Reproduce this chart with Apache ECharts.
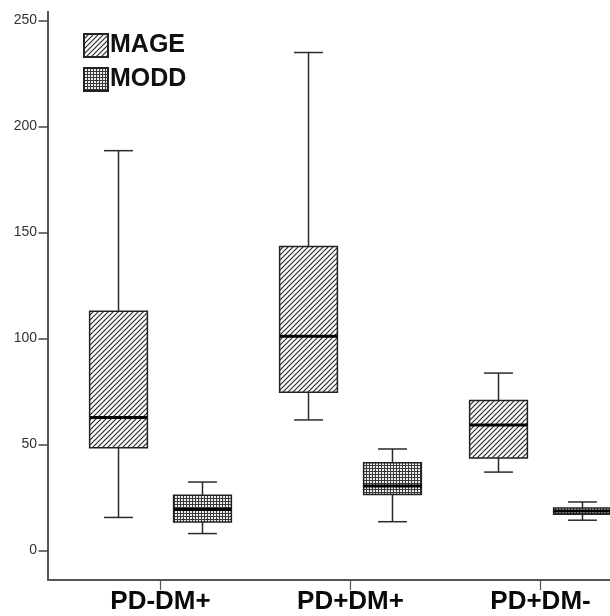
<!DOCTYPE html>
<html><head><meta charset="utf-8">
<script src="https://cdn.jsdelivr.net/npm/echarts@6/dist/echarts.min.js"></script>
<style>html,body{margin:0;padding:0;background:#fff}#c{width:610px;height:616px}</style>
</head><body><div id="c"></div>
<script>
const categories = ['PD-DM+', 'PD+DM+', 'PD+DM-'];
const seriesNames = ['MAGE', 'MODD'];
const mageMin = [15.5, 61.5, 36.9];
const mageQ1 = [48.4, 74.5, 43.5];
const mageMedian = [62.6, 101.0, 59.1];
const mageQ3 = [112.8, 143.3, 70.7];
const mageMax = [188.5, 234.8, 83.6];
const moddMin = [7.9, 13.5, 14.2];
const moddQ1 = [13.4, 26.3, 17.0];
const moddMedian = [19.2, 30.3, 18.6];
const moddQ3 = [26.0, 41.3, 20.0];
const moddMax = [32.2, 47.8, 22.8];
const yTicks = [0, 50, 100, 150, 200, 250];
const yMin = -14, yMax = 254;

const FONT = '"Liberation Sans", Arial, Helvetica, sans-serif';

function hatchTile() {
  const s = 5;
  const c = document.createElement('canvas');
  c.width = s; c.height = s;
  const g = c.getContext('2d');
  g.fillStyle = '#fff'; g.fillRect(0, 0, s, s);
  g.strokeStyle = '#2b2b2b'; g.lineWidth = 1.2;
  g.beginPath();
  g.moveTo(0, s); g.lineTo(s, 0);
  g.moveTo(-1, 1); g.lineTo(1, -1);
  g.moveTo(s - 1, s + 1); g.lineTo(s + 1, s - 1);
  g.stroke();
  return {image: c, repeat: 'repeat'};
}
function dotTile() {
  const c = document.createElement('canvas');
  c.width = 3; c.height = 3;
  const g = c.getContext('2d');
  g.fillStyle = '#383838'; g.fillRect(0, 0, 3, 3);
  g.fillStyle = '#eeeeee'; g.fillRect(1, 1, 2, 2);
  return {image: c, repeat: 'repeat'};
}
const magePattern = hatchTile();
const moddPattern = dotTile();

function rows(mn, q1, md, q3, mx) {
  return categories.map((c, i) => [i, mn[i], q1[i], md[i], q3[i], mx[i]]);
}

function renderBox(offsetFrac, fill) {
  return function (params, api) {
    const ci = api.value(0);
    const band = api.size([1, 0])[0];
    const cx = api.coord([ci, 0])[0] + offsetFrac * band;
    const y = k => api.coord([ci, api.value(k)])[1];
    const yMn = y(1), yQ1 = y(2), yMd = y(3), yQ3 = y(4), yMx = y(5);
    const hw = band * 0.152, cw = hw / 2;
    const ln = {stroke: '#2a2a2a', lineWidth: 1.5};
    return {type: 'group', children: [
      {type: 'line', shape: {x1: cx, y1: yQ3, x2: cx, y2: yMx}, style: ln},
      {type: 'line', shape: {x1: cx, y1: yQ1, x2: cx, y2: yMn}, style: ln},
      {type: 'line', shape: {x1: cx - cw, y1: yMx, x2: cx + cw, y2: yMx}, style: ln},
      {type: 'line', shape: {x1: cx - cw, y1: yMn, x2: cx + cw, y2: yMn}, style: ln},
      {type: 'rect', shape: {x: cx - hw, y: yQ3, width: 2 * hw, height: yQ1 - yQ3},
        style: {fill: fill, stroke: '#222', lineWidth: 1.5}},
      {type: 'line', shape: {x1: cx - hw, y1: yMd, x2: cx + hw, y2: yMd},
        style: {stroke: '#000', lineWidth: 3}}
    ]};
  };
}

const chart = echarts.init(document.getElementById('c'), null, {renderer: 'canvas'});
chart.setOption({
  animation: false,
  backgroundColor: '#fff',
  textStyle: {fontFamily: FONT},
  legend: {
    data: seriesNames, orient: 'vertical', left: 83, top: 33, padding: 0,
    itemWidth: 24, itemHeight: 23, itemGap: 9, icon: 'rect', selectedMode: false,
    textStyle: {fontSize: 25, fontWeight: 'bold', color: '#111', fontFamily: FONT, padding: [0, 0, 0, -3]}
  },
  grid: [
    {left: 65.5, width: 570, top: 11.8, bottom: 36, outerBoundsMode: 'none', containLabel: false},
    {left: 48, right: 0, top: 11.8, bottom: 36, outerBoundsMode: 'none', containLabel: false}
  ],
  xAxis: [
    {
      type: 'category', data: categories, gridIndex: 0, boundaryGap: true,
      axisLine: {show: false, onZero: false},
      axisTick: {show: true, alignWithLabel: true, length: 10, lineStyle: {color: '#555', width: 1.2}},
      axisLabel: {margin: 9, fontSize: 26, fontWeight: 'bold', color: '#0a0a0a', fontFamily: FONT},
      splitLine: {show: false}
    },
    {
      type: 'value', gridIndex: 1, min: 0, max: 1,
      axisLine: {show: true, onZero: false, lineStyle: {color: '#555', width: 2}},
      axisTick: {show: false}, axisLabel: {show: false}, splitLine: {show: false}
    }
  ],
  yAxis: [
    {
      type: 'value', gridIndex: 0, min: yMin, max: yMax, offset: 17.5,
      axisLine: {show: true, lineStyle: {color: '#555', width: 2}},
      axisTick: {show: true, length: 9.5, customValues: yTicks, lineStyle: {color: '#444', width: 1.5}},
      axisLabel: {margin: 11, fontSize: 14, color: '#333', fontFamily: FONT, customValues: yTicks},
      splitLine: {show: false}
    },
    {type: 'value', gridIndex: 1, show: false, min: 0, max: 1}
  ],
  series: [
    {
      name: 'MAGE', type: 'custom', xAxisIndex: 0, yAxisIndex: 0,
      renderItem: renderBox(-0.221, magePattern),
      itemStyle: {color: magePattern, borderColor: '#222', borderWidth: 1.5},
      encode: {x: 0, y: [1, 2, 3, 4, 5]},
      data: rows(mageMin, mageQ1, mageMedian, mageQ3, mageMax)
    },
    {
      name: 'MODD', type: 'custom', xAxisIndex: 0, yAxisIndex: 0,
      renderItem: renderBox(0.221, moddPattern),
      itemStyle: {color: moddPattern, borderColor: '#222', borderWidth: 1.5},
      encode: {x: 0, y: [1, 2, 3, 4, 5]},
      data: rows(moddMin, moddQ1, moddMedian, moddQ3, moddMax)
    }
  ]
});
</script></body></html>
